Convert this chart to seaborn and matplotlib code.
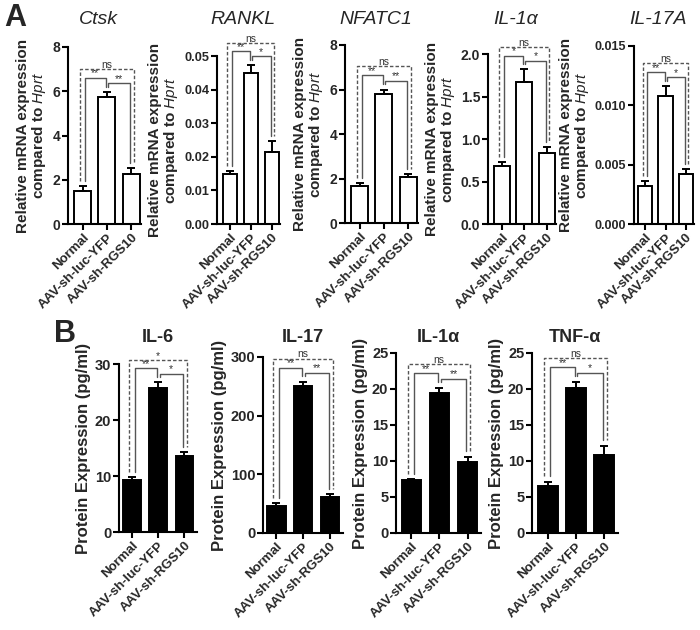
import numpy as np
import pandas as pd
import matplotlib
matplotlib.use('Agg')
import matplotlib.pyplot as plt
import seaborn as sns

groups = ['Normal', 'AAV-sh-luc-YFP', 'AAV-sh-RGS10']

# Panel A: relative mRNA expression (mean, sem)
ctsk_mean = [1.5, 5.72, 2.28]
ctsk_err = [0.2, 0.25, 0.25]
rankl_mean = [0.0148, 0.0449, 0.0213]
rankl_err = [0.001, 0.0025, 0.0035]
nfatc1_mean = [1.68, 5.8, 2.08]
nfatc1_err = [0.12, 0.2, 0.1]
il1a_mrna_mean = [0.68, 1.67, 0.84]
il1a_mrna_err = [0.05, 0.15, 0.07]
il17a_mean = [0.0032, 0.0108, 0.0042]
il17a_err = [0.0004, 0.0008, 0.0004]

# Panel B: protein expression (pg/ml)
il6_mean = [9.3, 25.8, 13.6]
il6_err = [0.5, 1.0, 0.6]
il17_mean = [46, 251, 61]
il17_err = [5, 7, 5]
il1a_prot_mean = [7.3, 19.5, 9.8]
il1a_prot_err = [0.2, 0.7, 0.8]
tnfa_mean = [6.5, 20.2, 10.8]
tnfa_err = [0.6, 0.8, 1.3]

sns.set_style('ticks')
plt.rcParams['font.family'] = ['Liberation Sans', 'DejaVu Sans']
plt.rcParams['font.weight'] = 'bold'
plt.rcParams['mathtext.fontset'] = 'custom'
plt.rcParams['mathtext.it'] = 'Liberation Sans:italic:normal'
plt.rcParams['mathtext.rm'] = 'Liberation Sans'

fig = plt.figure(figsize=(7, 6.3), dpi=100)
W, H = 700, 630


def add_ax(x0, x1, ytop, ybot):
    return fig.add_axes([x0 / W, 1 - ybot / H, (x1 - x0) / W, (ybot - ytop) / H])


def bracket(ax, xa, xb, h, ya, yb, text, ymax, dashed=False):
    ls = (0, (2.5, 1.5)) if dashed else '-'
    ax.plot([xa, xa, xb, xb], [ya, h, h, yb], color='#555555', lw=1.0, ls=ls,
            clip_on=False, zorder=5)
    ax.text((xa + xb) / 2, h - 0.004 * ymax, text, ha='center', va='bottom',
            fontsize=7.5, color='#333333', fontweight='normal', clip_on=False)


def panel(box, mean, err, ymax, yticks, yticklabels, ylabel, title, tstyle,
          sigs, filled, tick_fs, label_fs, xlim, width):
    ax = add_ax(*box)
    df = pd.DataFrame({'group': groups, 'value': mean})
    sns.barplot(data=df, x='group', y='value', ax=ax,
                color='black' if filled else 'white',
                edgecolor='black', linewidth=1.4, width=width,
                saturation=1, errorbar=None)
    ax.errorbar(range(3), mean, yerr=[np.zeros(3), err], fmt='none',
                ecolor='black', elinewidth=1.4, capsize=3, capthick=1.4,
                zorder=4)
    ax.set_ylim(0, ymax)
    ax.set_xlim(*xlim)
    ax.set_yticks(yticks)
    ax.set_yticklabels(yticklabels, fontsize=tick_fs, fontweight='bold')
    ax.set_xticks(range(3))
    ax.set_xticklabels(groups, rotation=45, ha='right', rotation_mode='anchor',
                       fontsize=9.5, fontweight='bold')
    ax.set_xlabel('')
    ax.set_ylabel(ylabel, fontsize=label_fs, fontweight='bold', labelpad=3,
                  linespacing=1.0)
    for s in ['top', 'right']:
        ax.spines[s].set_visible(False)
    for s in ['left', 'bottom']:
        ax.spines[s].set_linewidth(1.5)
        ax.spines[s].set_color('black')
    ax.tick_params(axis='both', width=1.5, length=4, color='black', pad=1.5)
    ax.set_facecolor('none')

    tops = np.array(mean) + np.array(err)
    gap = 0.03 * ymax
    h1 = max(tops[0], tops[1]) + 0.08 * ymax
    h2 = max(tops[1], tops[2]) + 0.05 * ymax
    h3 = tops.max() + 0.13 * ymax
    bracket(ax, 0.1, 0.95, h1, tops[0] + gap, tops[1] + gap, sigs[0], ymax)
    bracket(ax, 1.05, 1.95, h2, tops[1] + gap, tops[2] + gap, sigs[1], ymax)
    bracket(ax, -0.12, 2.1, h3, tops[0] + gap, tops[2] + gap, sigs[2], ymax,
            dashed=True)

    cx = (box[0] + box[1]) / 2 - tstyle[2]
    fig.text(cx / W, 1 - tstyle[1] / H, title,
             ha='center', va='center', fontsize=tstyle[0],
             fontweight='normal' if tstyle[3] else 'bold',
             style='italic' if tstyle[3] else 'normal')
    return ax


mrna_label = 'Relative mRNA expression\ncompared to $\\mathit{Hprt}$'
prot_label = 'Protein Expression (pg/ml)'
ta = (14, 20, 6, True)
tb = (13, 338, 0, False)

ticks_8 = [0, 2, 4, 6, 8]
panel((68, 141, 47, 224), ctsk_mean, ctsk_err, 8, ticks_8, ticks_8,
      mrna_label, 'Ctsk', ta, ['**', '**', 'ns'], False, 10, 11,
      (-0.6, 2.4), 0.7)
panel((217, 280, 56, 224), rankl_mean, rankl_err, 0.05,
      [0.0, 0.01, 0.02, 0.03, 0.04, 0.05],
      ['0.00', '0.01', '0.02', '0.03', '0.04', '0.05'],
      mrna_label, 'RANKL', ta, ['**', '*', 'ns'], False, 9.2, 11,
      (-0.6, 2.4), 0.66)
panel((345, 418, 45, 223), nfatc1_mean, nfatc1_err, 8, ticks_8, ticks_8,
      mrna_label, 'NFATC1', ta, ['**', '**', 'ns'], False, 10, 11,
      (-0.6, 2.4), 0.7)
panel((488, 556, 54, 224), il1a_mrna_mean, il1a_mrna_err, 2.0,
      [0.0, 0.5, 1.0, 1.5, 2.0], ['0.0', '0.5', '1.0', '1.5', '2.0'],
      mrna_label, 'IL-1α', ta, ['*', '*', 'ns'], False, 10, 11,
      (-0.6, 2.4), 0.7)
panel((634, 694, 46, 224), il17a_mean, il17a_err, 0.015,
      [0.0, 0.005, 0.010, 0.015], ['0.000', '0.005', '0.010', '0.015'],
      mrna_label, 'IL-17A', ta, ['**', '*', 'ns'], False, 9, 11,
      (-0.55, 2.4), 0.7)

panel((119, 197, 364, 532), il6_mean, il6_err, 30, [0, 10, 20, 30],
      [0, 10, 20, 30], prot_label, 'IL-6', tb, ['**', '*', '*'], True,
      10.5, 12, (-0.5, 2.48), 0.68)
panel((263, 343, 357, 533), il17_mean, il17_err, 300, [0, 100, 200, 300],
      [0, 100, 200, 300], prot_label, 'IL-17', tb, ['**', '**', 'ns'], True,
      10.5, 12, (-0.5, 2.48), 0.68)
ticks_25 = [0, 5, 10, 15, 20, 25]
panel((396, 481, 353, 533), il1a_prot_mean, il1a_prot_err, 25, ticks_25,
      ticks_25, prot_label, 'IL-1α', tb, ['**', '**', 'ns'], True,
      10.5, 12, (-0.55, 2.48), 0.7)
panel((532, 618, 353, 533), tnfa_mean, tnfa_err, 25, ticks_25, ticks_25,
      prot_label, 'TNF-α', tb, ['**', '*', 'ns'], True,
      10.5, 12, (-0.55, 2.48), 0.7)

fig.text(4 / W, 1 - 18 / H, 'A', fontsize=22, fontweight='bold', va='center')
fig.text(54 / W, 1 - 334 / H, 'B', fontsize=22, fontweight='bold', va='center')

fig.savefig('out.png', dpi=100, facecolor='white')
